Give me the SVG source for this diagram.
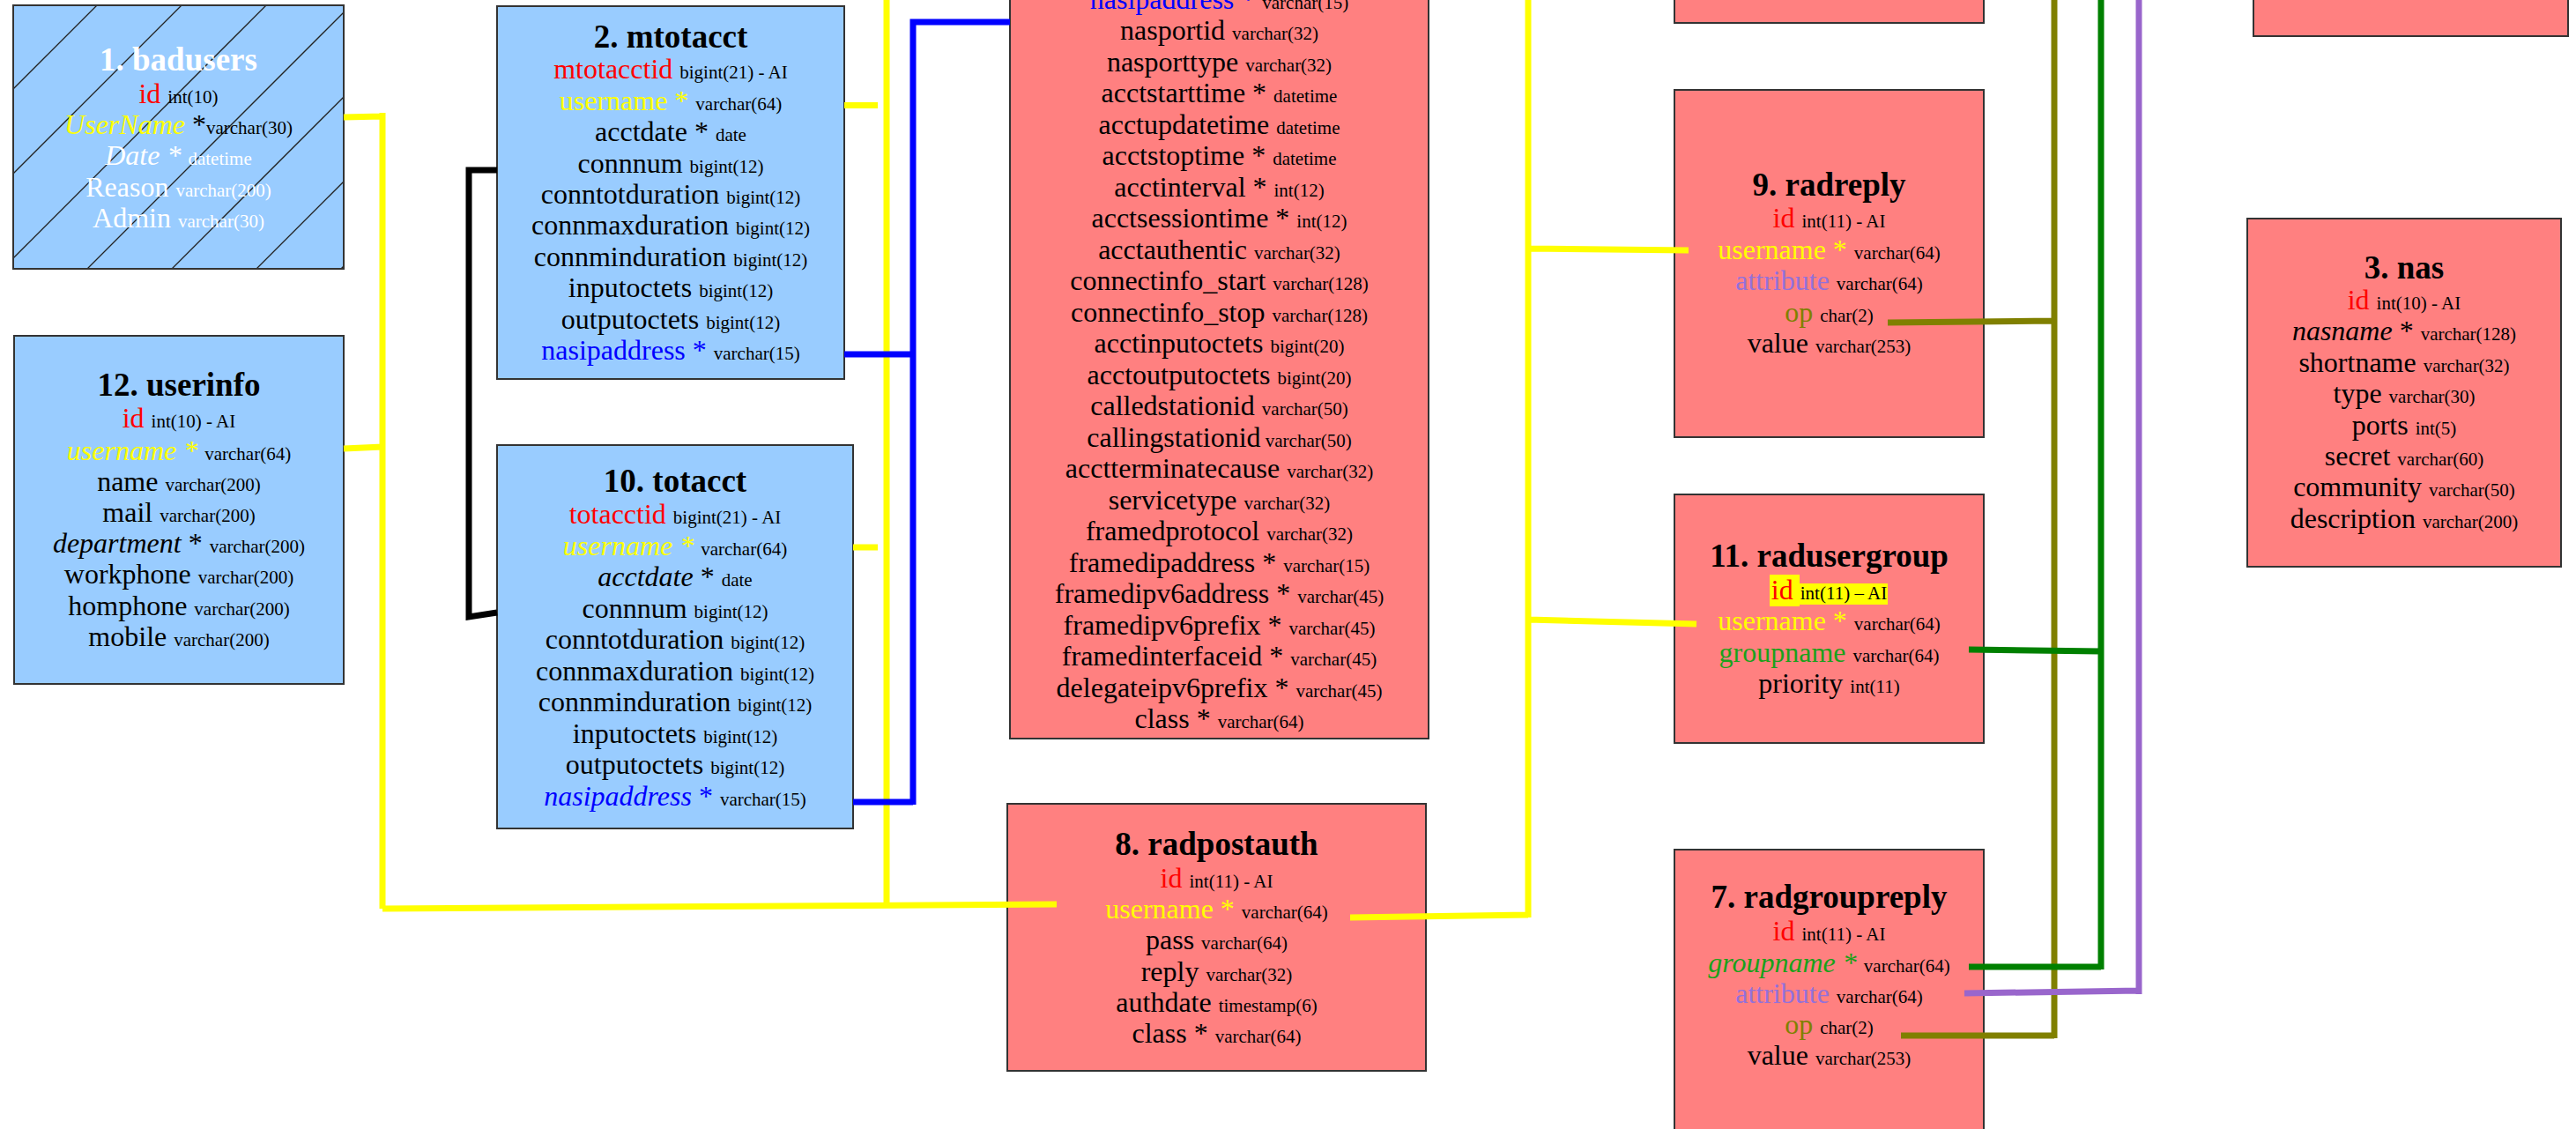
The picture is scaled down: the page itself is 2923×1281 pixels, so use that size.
<svg xmlns="http://www.w3.org/2000/svg" width="2923" height="1281" viewBox="0 0 2923 1281">
<style>
.bb{fill:#99ccff;stroke:#333;stroke-width:2}
.br{fill:#ff8080;stroke:#333;stroke-width:2}
text{font-family:"Liberation Serif","Times New Roman",serif;text-anchor:middle;fill:#000}
.ti{font-size:37px;font-weight:bold}
.f{font-size:32px}
.t{font-size:21px}
.pk{fill:#ff0000}
.yl{fill:#ffff00}
.bl{fill:#0000ff}
.gr{fill:#1aa11a}
.pu{fill:#9370db}
.ol{fill:#808000}
.wh{fill:#ffffff}
.it{font-style:italic}
.c{fill:none;stroke-width:7;stroke-linejoin:miter;stroke-linecap:butt}
.cy{stroke:#ffff00}.cb{stroke:#0000ff}.ck{stroke:#000}.co{stroke:#808000}.cg{stroke:#008000}.cp{stroke:#9966cc}
.hatch{stroke:#222;stroke-width:1.3;fill:none}
</style>
<defs>
<clipPath id="clipBad"><rect x="15" y="6" width="375" height="299"/></clipPath>
</defs>

<g id="top-box-a"><rect class="br" x="1900" y="-10" width="351" height="36"/></g>
<g id="top-box-b"><rect class="br" x="2557" y="-10" width="357" height="51"/></g>

<g id="badusers">
<rect class="bb" x="15" y="6" width="375" height="299"/>
<g clip-path="url(#clipBad)" class="hatch">
<line x1="15" y1="101" x2="110" y2="6"/>
<line x1="15" y1="197" x2="206" y2="6"/>
<line x1="15" y1="293" x2="302" y2="6"/>
<line x1="99" y1="305" x2="390" y2="14"/>
<line x1="195" y1="305" x2="390" y2="110"/>
<line x1="291" y1="305" x2="390" y2="206"/>
<line x1="387" y1="305" x2="392" y2="300"/>
</g>
<rect x="15" y="6" width="375" height="299" fill="none" stroke="#333" stroke-width="2"/>
<text class="ti wh" x="202.5" y="80">1. badusers</text>
<text x="202.5" y="117"><tspan class="f pk">id </tspan><tspan class="t">int(10)</tspan></text>
<text x="202.5" y="152"><tspan class="f yl it">UserName</tspan><tspan class="f"> *</tspan><tspan class="t">varchar(30)</tspan></text>
<text x="202.5" y="187"><tspan class="f wh it">Date * </tspan><tspan class="t wh">datetime</tspan></text>
<text x="202.5" y="223"><tspan class="f wh">Reason </tspan><tspan class="t wh">varchar(200)</tspan></text>
<text x="202.5" y="258"><tspan class="f wh">Admin </tspan><tspan class="t wh">varchar(30)</tspan></text>
</g>

<g id="userinfo">
<rect class="bb" x="16" y="381" width="374" height="395"/>
<text class="ti" x="203" y="449">12. userinfo</text>
<text x="203" y="485"><tspan class="f pk">id </tspan><tspan class="t">int(10) - AI</tspan></text>
<text x="203" y="522"><tspan class="f yl it">username * </tspan><tspan class="t">varchar(64)</tspan></text>
<text x="203" y="557"><tspan class="f">name </tspan><tspan class="t">varchar(200)</tspan></text>
<text x="203" y="592"><tspan class="f">mail </tspan><tspan class="t">varchar(200)</tspan></text>
<text x="203" y="627"><tspan class="f it">department</tspan><tspan class="f"> * </tspan><tspan class="t">varchar(200)</tspan></text>
<text x="203" y="662"><tspan class="f">workphone </tspan><tspan class="t">varchar(200)</tspan></text>
<text x="203" y="698"><tspan class="f">homphone </tspan><tspan class="t">varchar(200)</tspan></text>
<text x="203" y="733"><tspan class="f">mobile </tspan><tspan class="t">varchar(200)</tspan></text>
</g>

<g id="mtotacct">
<rect class="bb" x="564" y="7" width="394" height="423"/>
<text class="ti" x="761" y="54">2. mtotacct</text>
<text x="761" y="89"><tspan class="f pk">mtotacctid </tspan><tspan class="t">bigint(21) - AI</tspan></text>
<text x="761" y="124.5"><tspan class="f yl">username * </tspan><tspan class="t">varchar(64)</tspan></text>
<text x="761" y="160"><tspan class="f">acctdate * </tspan><tspan class="t">date</tspan></text>
<text x="761" y="195.5"><tspan class="f">connnum </tspan><tspan class="t">bigint(12)</tspan></text>
<text x="761" y="231"><tspan class="f">conntotduration </tspan><tspan class="t">bigint(12)</tspan></text>
<text x="761" y="266"><tspan class="f">connmaxduration </tspan><tspan class="t">bigint(12)</tspan></text>
<text x="761" y="301.5"><tspan class="f">connminduration </tspan><tspan class="t">bigint(12)</tspan></text>
<text x="761" y="337"><tspan class="f">inputoctets </tspan><tspan class="t">bigint(12)</tspan></text>
<text x="761" y="372.5"><tspan class="f">outputoctets </tspan><tspan class="t">bigint(12)</tspan></text>
<text x="761" y="408"><tspan class="f bl">nasipaddress * </tspan><tspan class="t">varchar(15)</tspan></text>
</g>

<g id="totacct">
<rect class="bb" x="564" y="505" width="404" height="435"/>
<text class="ti" x="766" y="558">10. totacct</text>
<text x="766" y="594"><tspan class="f pk">totacctid </tspan><tspan class="t">bigint(21) - AI</tspan></text>
<text x="766" y="629.5"><tspan class="f yl it">username * </tspan><tspan class="t">varchar(64)</tspan></text>
<text x="766" y="665"><tspan class="f it">acctdate</tspan><tspan class="f"> * </tspan><tspan class="t">date</tspan></text>
<text x="766" y="700.5"><tspan class="f">connnum </tspan><tspan class="t">bigint(12)</tspan></text>
<text x="766" y="736"><tspan class="f">conntotduration </tspan><tspan class="t">bigint(12)</tspan></text>
<text x="766" y="771.5"><tspan class="f">connmaxduration </tspan><tspan class="t">bigint(12)</tspan></text>
<text x="766" y="807"><tspan class="f">connminduration </tspan><tspan class="t">bigint(12)</tspan></text>
<text x="766" y="842.5"><tspan class="f">inputoctets </tspan><tspan class="t">bigint(12)</tspan></text>
<text x="766" y="878"><tspan class="f">outputoctets </tspan><tspan class="t">bigint(12)</tspan></text>
<text x="766" y="913.5"><tspan class="f bl it">nasipaddress</tspan><tspan class="f bl"> * </tspan><tspan class="t">varchar(15)</tspan></text>
</g>

<g id="radacct">
<rect class="br" x="1146" y="-10" width="475" height="848"/>
<text x="1383.5" y="9.8"><tspan class="f bl">nasipaddress * </tspan><tspan class="t">varchar(15)</tspan></text>
<text x="1383.5" y="45.3"><tspan class="f">nasportid </tspan><tspan class="t">varchar(32)</tspan></text>
<text x="1383.5" y="80.8"><tspan class="f">nasporttype </tspan><tspan class="t">varchar(32)</tspan></text>
<text x="1383.5" y="116.3"><tspan class="f">acctstarttime * </tspan><tspan class="t">datetime</tspan></text>
<text x="1383.5" y="151.8"><tspan class="f">acctupdatetime </tspan><tspan class="t">datetime</tspan></text>
<text x="1383.5" y="187.3"><tspan class="f">acctstoptime * </tspan><tspan class="t">datetime</tspan></text>
<text x="1383.5" y="222.8"><tspan class="f">acctinterval * </tspan><tspan class="t">int(12)</tspan></text>
<text x="1383.5" y="258.3"><tspan class="f">acctsessiontime * </tspan><tspan class="t">int(12)</tspan></text>
<text x="1383.5" y="293.8"><tspan class="f">acctauthentic </tspan><tspan class="t">varchar(32)</tspan></text>
<text x="1383.5" y="329.3"><tspan class="f">connectinfo_start </tspan><tspan class="t">varchar(128)</tspan></text>
<text x="1383.5" y="364.8"><tspan class="f">connectinfo_stop </tspan><tspan class="t">varchar(128)</tspan></text>
<text x="1383.5" y="400.3"><tspan class="f">acctinputoctets </tspan><tspan class="t">bigint(20)</tspan></text>
<text x="1383.5" y="435.8"><tspan class="f">acctoutputoctets </tspan><tspan class="t">bigint(20)</tspan></text>
<text x="1383.5" y="471.3"><tspan class="f">calledstationid </tspan><tspan class="t">varchar(50)</tspan></text>
<text x="1383.5" y="506.8"><tspan class="f">callingstationid</tspan><tspan class="t"> varchar(50)</tspan></text>
<text x="1383.5" y="542.3"><tspan class="f">acctterminatecause </tspan><tspan class="t">varchar(32)</tspan></text>
<text x="1383.5" y="577.8"><tspan class="f">servicetype </tspan><tspan class="t">varchar(32)</tspan></text>
<text x="1383.5" y="613.3"><tspan class="f">framedprotocol </tspan><tspan class="t">varchar(32)</tspan></text>
<text x="1383.5" y="648.8"><tspan class="f">framedipaddress * </tspan><tspan class="t">varchar(15)</tspan></text>
<text x="1383.5" y="684.3"><tspan class="f">framedipv6address * </tspan><tspan class="t">varchar(45)</tspan></text>
<text x="1383.5" y="719.8"><tspan class="f">framedipv6prefix * </tspan><tspan class="t">varchar(45)</tspan></text>
<text x="1383.5" y="755.3"><tspan class="f">framedinterfaceid * </tspan><tspan class="t">varchar(45)</tspan></text>
<text x="1383.5" y="790.8"><tspan class="f">delegateipv6prefix * </tspan><tspan class="t">varchar(45)</tspan></text>
<text x="1383.5" y="826.3"><tspan class="f">class * </tspan><tspan class="t">varchar(64)</tspan></text>
</g>

<g id="radpostauth">
<rect class="br" x="1143" y="912" width="475" height="303"/>
<text class="ti" x="1380.5" y="970">8. radpostauth</text>
<text x="1380.5" y="1007"><tspan class="f pk">id </tspan><tspan class="t">int(11) - AI</tspan></text>
<text x="1380.5" y="1042"><tspan class="f yl">username * </tspan><tspan class="t">varchar(64)</tspan></text>
<text x="1380.5" y="1077"><tspan class="f">pass </tspan><tspan class="t">varchar(64)</tspan></text>
<text x="1380.5" y="1112.5"><tspan class="f">reply </tspan><tspan class="t">varchar(32)</tspan></text>
<text x="1380.5" y="1148"><tspan class="f">authdate </tspan><tspan class="t">timestamp(6)</tspan></text>
<text x="1380.5" y="1183"><tspan class="f">class * </tspan><tspan class="t">varchar(64)</tspan></text>
</g>

<g id="radreply">
<rect class="br" x="1900" y="102" width="351" height="394"/>
<text class="ti" x="2075.5" y="222">9. radreply</text>
<text x="2075.5" y="258"><tspan class="f pk">id </tspan><tspan class="t">int(11) - AI</tspan></text>
<text x="2075.5" y="294"><tspan class="f yl">username * </tspan><tspan class="t">varchar(64)</tspan></text>
<text x="2075.5" y="329"><tspan class="f pu">attribute </tspan><tspan class="t">varchar(64)</tspan></text>
<text x="2075.5" y="365"><tspan class="f ol">op </tspan><tspan class="t">char(2)</tspan></text>
<text x="2075.5" y="400"><tspan class="f">value </tspan><tspan class="t">varchar(253)</tspan></text>
</g>

<g id="radusergroup">
<rect class="br" x="1900" y="561" width="351" height="282"/>
<text class="ti" x="2075.5" y="643">11. radusergroup</text>
<rect x="2008" y="652" width="34" height="36" fill="#ffff00"/>
<rect x="2042" y="662" width="100" height="24" fill="#ffff00"/>
<text x="2075.5" y="680"><tspan class="f pk">id </tspan><tspan class="t">int(11) – AI</tspan></text>
<text x="2075.5" y="715"><tspan class="f yl">username * </tspan><tspan class="t">varchar(64)</tspan></text>
<text x="2075.5" y="751"><tspan class="f gr">groupname </tspan><tspan class="t">varchar(64)</tspan></text>
<text x="2075.5" y="786"><tspan class="f">priority </tspan><tspan class="t">int(11)</tspan></text>
</g>

<g id="radgroupreply">
<rect class="br" x="1900" y="964" width="351" height="340"/>
<text class="ti" x="2075.5" y="1030">7. radgroupreply</text>
<text x="2075.5" y="1067"><tspan class="f pk">id </tspan><tspan class="t">int(11) - AI</tspan></text>
<text x="2075.5" y="1103"><tspan class="f gr it">groupname * </tspan><tspan class="t">varchar(64)</tspan></text>
<text x="2075.5" y="1138"><tspan class="f pu">attribute </tspan><tspan class="t">varchar(64)</tspan></text>
<text x="2075.5" y="1173"><tspan class="f ol">op </tspan><tspan class="t">char(2)</tspan></text>
<text x="2075.5" y="1208"><tspan class="f">value </tspan><tspan class="t">varchar(253)</tspan></text>
</g>

<g id="nas">
<rect class="br" x="2550" y="248" width="356" height="395"/>
<text class="ti" x="2728" y="316">3. nas</text>
<text x="2728" y="351"><tspan class="f pk">id </tspan><tspan class="t">int(10) - AI</tspan></text>
<text x="2728" y="386.4"><tspan class="f it">nasname</tspan><tspan class="f"> * </tspan><tspan class="t">varchar(128)</tspan></text>
<text x="2728" y="421.8"><tspan class="f">shortname </tspan><tspan class="t">varchar(32)</tspan></text>
<text x="2728" y="457.2"><tspan class="f">type </tspan><tspan class="t">varchar(30)</tspan></text>
<text x="2728" y="492.6"><tspan class="f">ports </tspan><tspan class="t">int(5)</tspan></text>
<text x="2728" y="528"><tspan class="f">secret </tspan><tspan class="t">varchar(60)</tspan></text>
<text x="2728" y="563.4"><tspan class="f">community </tspan><tspan class="t">varchar(50)</tspan></text>
<text x="2728" y="598.8"><tspan class="f">description </tspan><tspan class="t">varchar(200)</tspan></text>
</g>

<g id="connectors">
<path class="c cy" d="M390,133 L434,132 M434,128 L434,1031 M390,509 L434,507 M434,1031 L1199,1026"/>
<path class="c cy" d="M958,119.5 L996,119.5 M968,621 L996,621 M1006,0 L1006,1027"/>
<path class="c cy" d="M1532,1041 L1734,1038 M1734,0 L1734,1041 M1734,282 L1916,284 M1734,703 L1925,708"/>
<path class="c cb" d="M958,402 L1036,402 M1036,21.5 L1036,913 M1036,25 L1146,25 M968,910 L1036,910"/>
<path class="c ck" d="M564,193 L532,193 L532,700 L564,695"/>
<path class="c co" d="M2142,366 L2331,364 M2331,0 L2331,1178 M2157,1175 L2331,1175"/>
<path class="c cg" d="M2234,737 L2384,739 M2384,0 L2384,1100 M2234,1097 L2384,1097"/>
<path class="c cp" d="M2229,1127 L2427,1124 M2427,0 L2427,1128"/>
</g>
</svg>
